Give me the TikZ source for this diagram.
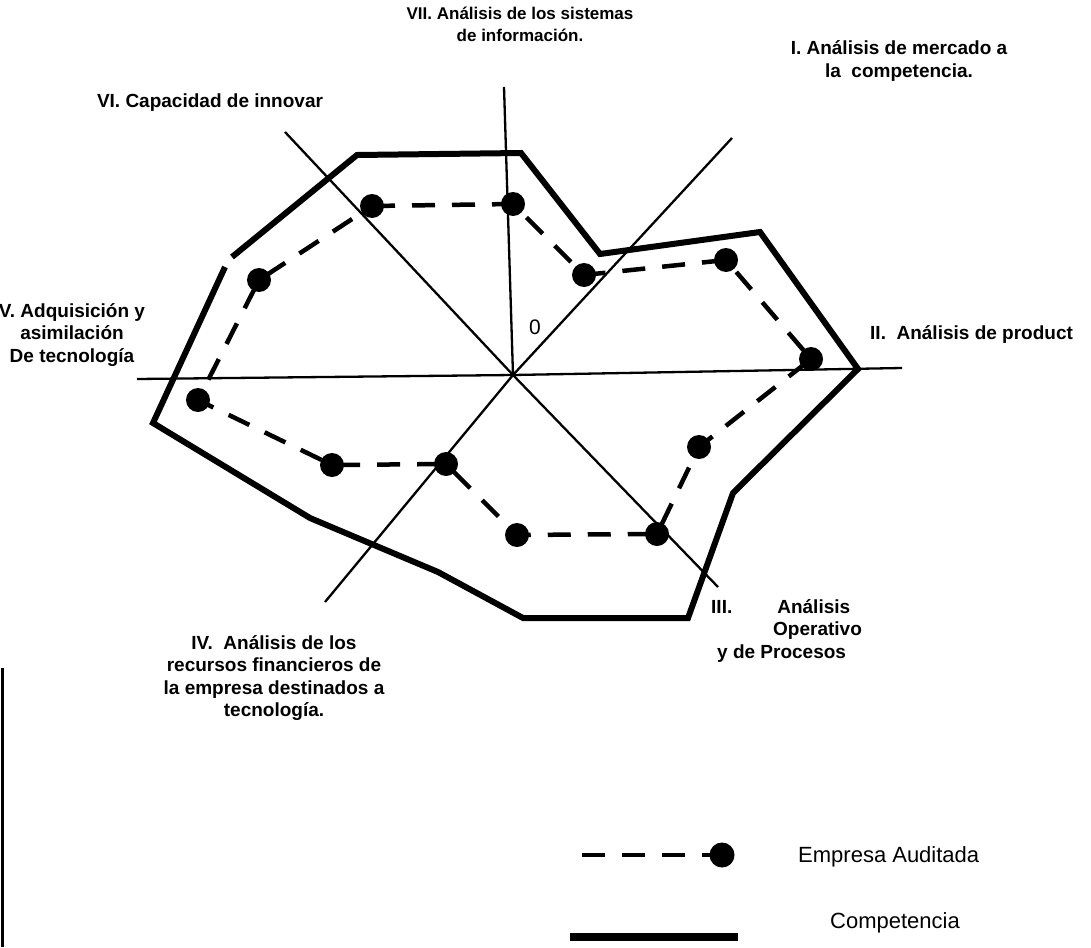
\documentclass[tikz,border=0pt]{standalone}
\usepackage{fontspec}
\setmainfont{Liberation Sans}
\begin{document}
\begin{tikzpicture}[x=1pt,y=-1pt,
  axisline/.style={line width=2.3pt},
  comp/.style={line width=6pt, line join=miter},
  emp/.style={line width=4.5pt, dash pattern=on 23pt off 17pt},
  dot/.style={circle, fill=black, draw=none, inner sep=0pt, minimum size=24pt},
  lbl/.style={font=\fontsize{19}{22.5}\selectfont\bfseries, inner sep=0pt, align=center},
  leg/.style={font=\fontsize{22}{26}\selectfont, inner sep=0pt, anchor=west}]
\useasboundingbox (0,0) rectangle (1091,947);

% axes
\coordinate (O) at (513,375);
\coordinate (aVII) at (504,87);
\coordinate (aII) at (902,368);
\coordinate (aV) at (137,379);
\coordinate (aVI) at (285,132);
\coordinate (aIII) at (718,587);
\coordinate (aI) at (732,138);
\coordinate (aIV) at (325,602);
\draw[axisline] (aVII) -- (O);
\draw[axisline] (aV) -- (O) -- (aII);
\draw[axisline] (aVI) -- (O) -- (aIII);
\draw[axisline] (aI) -- (O) -- (aIV);

% competencia
\coordinate (c1) at (232,257);
\coordinate (c2) at (357,155);
\coordinate (c3) at (521,153);
\coordinate (c4) at (600,254);
\coordinate (c5) at (760,232);
\coordinate (c6) at (858,369);
\coordinate (c7) at (733,493);
\coordinate (c8) at (688,618);
\coordinate (c9) at (523,618);
\coordinate (c10) at (438,572);
\coordinate (c11) at (310,518);
\coordinate (c12) at (153,423);
\coordinate (c13) at (225,267);
\draw[comp] (c1) -- (c2) -- (c3) -- (c4) -- (c5) -- (c6) -- (c7) -- (c8) -- (c9) -- (c10) -- (c11) -- (c12) -- (c13);

% empresa auditada
\node[dot] (d1) at (372,206) {};
\node[dot] (d2) at (513,204) {};
\node[dot] (d3) at (584,275) {};
\node[dot] (d4) at (726,260) {};
\node[dot] (d5) at (811,359) {};
\node[dot] (d6) at (699,447) {};
\node[dot] (d7) at (657,534) {};
\node[dot] (d8) at (517,535) {};
\node[dot] (d9) at (446,464) {};
\node[dot] (d10) at (332,465) {};
\node[dot] (d11) at (198,400) {};
\node[dot] (d12) at (259,280) {};
\draw[emp] (d1.center) -- (d2.center) -- (d3.center) -- (d4.center) -- (d5.center) -- (d6.center) -- (d7.center) -- (d8.center) -- (d9.center) -- (d10.center) -- (d11.center) -- (d12.center) -- cycle;

% labels
\node[lbl, font=\fontsize{17}{22}\selectfont\bfseries] (tVII) at (520,24) {VII. Análisis de los sistemas\\de información.};
\node[lbl] (tI) at (899,61) {I. Análisis de mercado a\\la\ \ competencia.};
\node[lbl] (tVI) at (210,103) {VI. Capacidad de innovar};
\node[lbl] (tV) at (72,335) {V. Adquisición y\\asimilación\\De tecnología};
\node[lbl, anchor=west] (tII) at (870,335) {II.\ \ Análisis de product};
\node[lbl, align=left, anchor=north west] (tIII) at (711,599) {III.\hspace{45pt}Análisis\\\hspace*{62pt}Operativo\\\hspace*{6pt}y de Procesos};
\node[lbl] (tIV) at (274,678) {IV.\ \ Análisis de los\\recursos financieros de\\la empresa destinados a\\tecnología.};
\node[font=\fontsize{21}{24}\selectfont, inner sep=0pt] (zero) at (535,327) {0};

% legend
\coordinate (lstart) at (582,855);
\node[dot, minimum size=25pt] (ldot) at (722,855) {};
\draw[emp] (lstart) -- (ldot.center);
\node[leg] (lemp) at (798,857) {Empresa Auditada};
\coordinate (lc1) at (570,937);
\coordinate (lc2) at (738,937);
\draw[line width=8pt] (lc1) -- (lc2);
\node[leg] (lcomp) at (830,923) {Competencia};

% scan edge line
\coordinate (e1) at (2,668);
\coordinate (e2) at (2,947);
\draw[line width=3pt] (e1) -- (e2);
\end{tikzpicture}
\end{document}
